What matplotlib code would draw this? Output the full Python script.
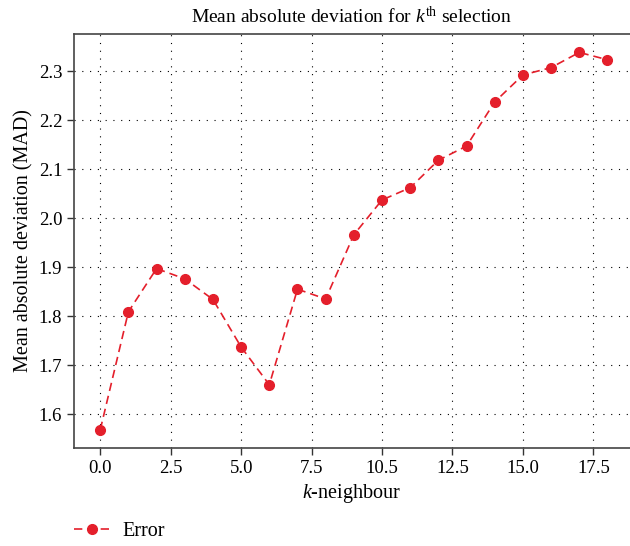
import matplotlib
matplotlib.use('Agg')
import matplotlib.pyplot as plt

# Данные: k и среднее абсолютное отклонение
k_values = list(range(19))
mad_values = [1.568, 1.809, 1.897, 1.876, 1.834, 1.737, 1.660, 1.855, 1.835, 1.966,
              2.037, 2.062, 2.118, 2.147, 2.237, 2.292, 2.307, 2.338, 2.323]
x_ticks = [0, 2.5, 5, 7.5, 10, 12.5, 15, 17.5]
x_tick_labels = ['0.0', '2.5', '5.0', '7.5', '10.5', '12.5', '15.0', '17.5']
y_ticks = [1.6, 1.7, 1.8, 1.9, 2.0, 2.1, 2.2, 2.3]

plt.rcParams['font.family'] = 'Liberation Serif'
plt.rcParams['mathtext.fontset'] = 'custom'
plt.rcParams['mathtext.rm'] = 'Liberation Serif'
plt.rcParams['mathtext.it'] = 'Liberation Serif:italic'

fig = plt.figure(figsize=(6.3, 5.46), dpi=100)
ax = fig.add_axes([0.1175, 0.1795, 0.8825, 0.7582])

ax.plot(k_values, mad_values, color='#e41f2b', linestyle='--', dashes=(5, 3),
        linewidth=1.2, marker='o', markersize=7, label='Error')

ax.set_xlim(-0.93, 18.8)
ax.set_ylim(1.531, 2.3755)
ax.set_xticks(x_ticks)
ax.set_xticklabels(x_tick_labels)
ax.set_yticks(y_ticks)
ax.set_yticklabels([f'{v:.1f}' for v in y_ticks])
ax.tick_params(direction='out', length=5, width=1, labelsize=13.5, color='#333333')

ax.grid(True, color='black', linestyle=(0, (1, 6)), linewidth=0.8)
for side in ['left', 'bottom', 'top']:
    ax.spines[side].set_color('#444444')
    ax.spines[side].set_linewidth(1.2)
ax.spines['right'].set_visible(False)

ax.set_title(r'Mean absolute deviation for $k^{\mathrm{th}}$ selection', fontsize=14, pad=8)
ax.set_xlabel(r'$k$-neighbour', fontsize=14.5)
ax.set_ylabel('Mean absolute deviation (MAD)', fontsize=14.5)

fig.legend(loc='center left', bbox_to_anchor=(0.117, 0.027), frameon=False,
           fontsize=14.5, handlelength=1.8, handletextpad=0.6,
           borderpad=0, borderaxespad=0)

fig.savefig('out.png', dpi=100)
